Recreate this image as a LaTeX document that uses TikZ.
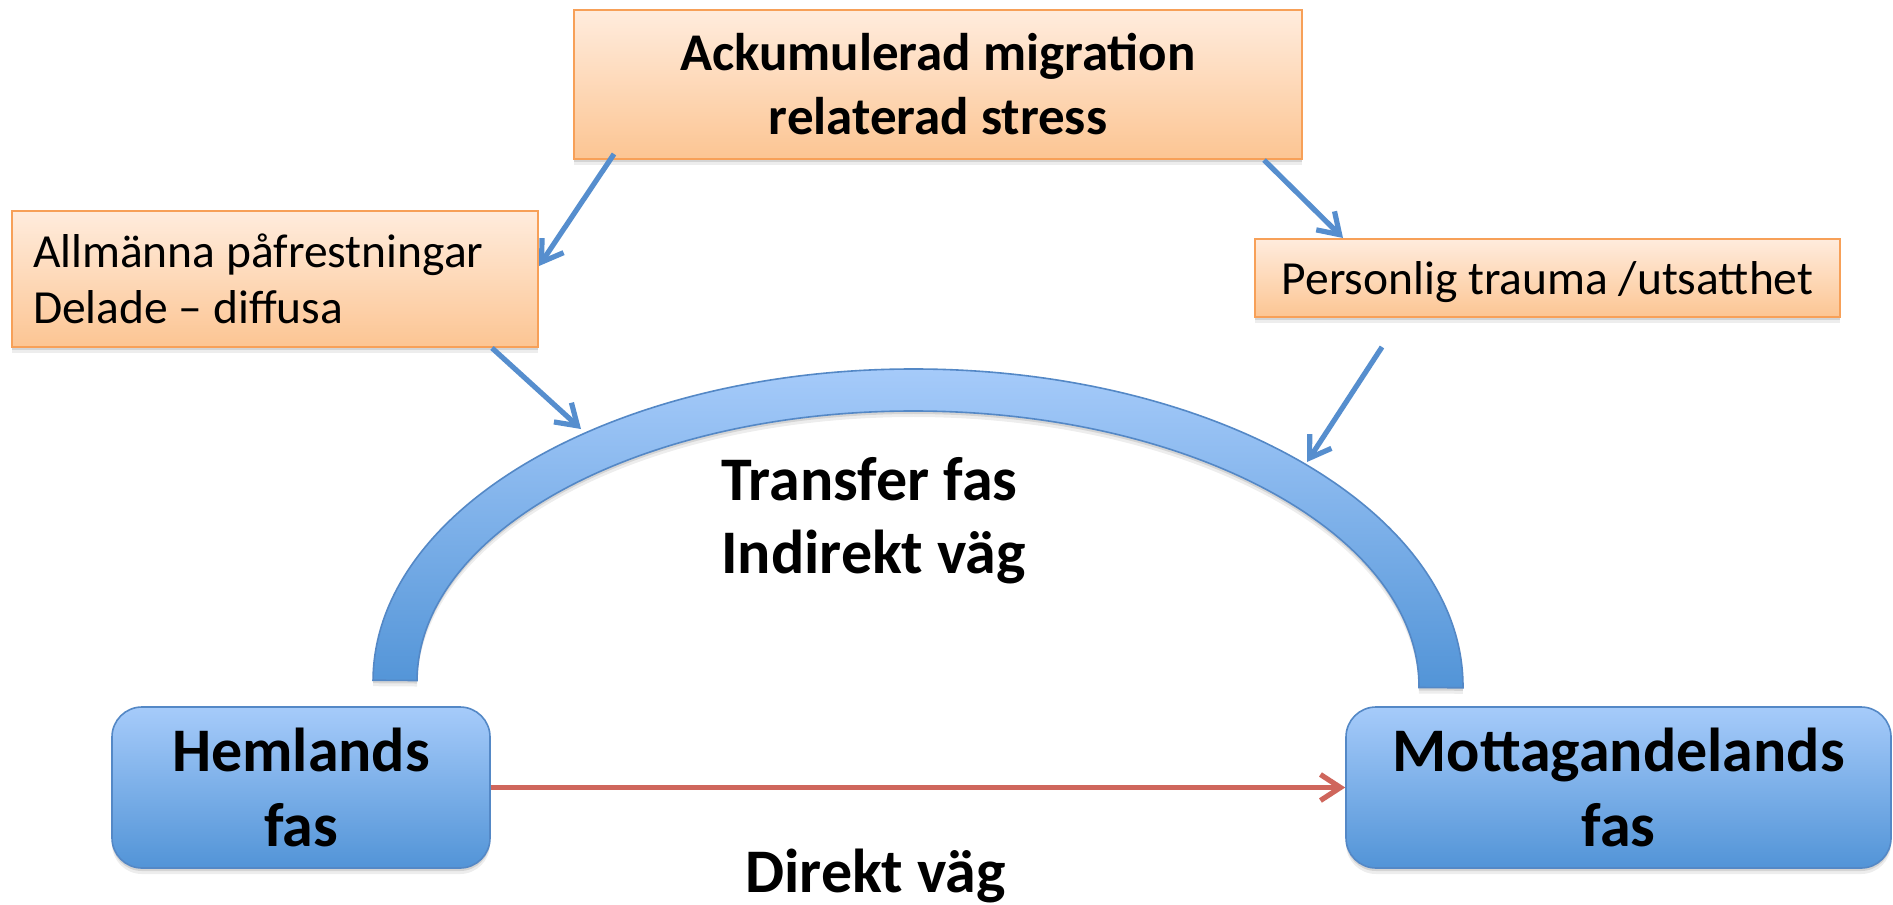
\documentclass[tikz,border=0pt]{standalone}
\usepackage{fontspec}
\setmainfont{Carlito}
\usetikzlibrary{arrows.meta,shadows}
\definecolor{orTop}{RGB}{255,236,221}
\definecolor{orBot}{RGB}{252,197,147}
\definecolor{orLine}{RGB}{247,160,88}
\definecolor{blTop}{RGB}{166,203,250}
\definecolor{blBot}{RGB}{82,148,215}
\definecolor{blLine}{RGB}{84,136,198}
\definecolor{arBlue}{RGB}{86,142,206}
\definecolor{arRed}{RGB}{207,102,92}
\begin{document}
\begin{tikzpicture}[x=0.5pt,y=-0.5pt,
  softshadow/.style={general shadow={fill=black,opacity=0.10,shadow yshift=-1.5pt},
                     general shadow={fill=black,opacity=0.07,shadow yshift=-3pt}},
  orbox/.style={rectangle, draw=orLine, line width=1pt, top color=orTop, bottom color=orBot, softshadow, inner sep=0pt},
  blbox/.style={rectangle, rounded corners=15pt, draw=blLine, line width=0.8pt, top color=blTop, bottom color=blBot, softshadow, inner sep=0pt, font=\fontsize{31}{37.5}\selectfont\bfseries, align=center},
  bluearr/.style={draw=arBlue, line width=2.6pt, -{Straight Barb[length=10pt,width=13pt]}},
  redarr/.style={draw=arRed, line width=2.6pt, -{Straight Barb[length=10pt,width=13pt]}},
]
\useasboundingbox[fill=white] (0,0) rectangle (1893,904);

% boxes
\node[orbox, minimum width=364pt, minimum height=74.5pt, font=\fontsize{26.5}{32}\selectfont\bfseries, align=center] (top) at (938,84.5) {Ackumulerad migration\\relaterad stress};
\node[orbox, minimum width=263pt, minimum height=68pt, text width=242pt, align=flush left, font=\fontsize{23.75}{28}\selectfont] (left) at (275,279) {Allmänna påfrestningar\\Delade – diffusa};
\node[orbox, minimum width=292.5pt, minimum height=39pt, text depth=0pt, font=\fontsize{23.75}{28}\selectfont] (right) at (1547.5,278) {Personlig trauma /utsatthet};

\node[blbox, minimum width=189pt, minimum height=80.5pt] (hem) at (301,787.5) {Hemlands\\fas};
\node[blbox, minimum width=272.5pt, minimum height=80.5pt] (mott) at (1618.5,787.5) {Mottagandelands\\fas};

% arc
\begin{scope}[rotate around={-0.4:(918,684)}]
\path[draw=blLine, line width=0.8pt, top color=blTop, bottom color=blBot, softshadow]
  (373,684) arc[start angle=180, end angle=0, x radius=272.5pt, y radius=157.5pt]
  -- (1419,684) arc[start angle=0, end angle=180, x radius=250.5pt, y radius=136.5pt] -- cycle;
\end{scope}

% texts
\node[anchor=base west, align=left, font=\fontsize{31}{36.5}\selectfont\bfseries, inner sep=0pt] (transfer) at (721,573) {Transfer fas\\Indirekt väg};
\node[anchor=base west, font=\fontsize{31}{37}\selectfont\bfseries, inner sep=0pt] (direkt) at (745,892) {Direkt väg};

% connectors
\coordinate (arcL) at (581,429);
\coordinate (arcR) at (1307,462);
\coordinate (s4) at (1382,347);
\draw[bluearr] ([xshift=20.5pt,yshift=3pt]top.south west) -- ([yshift=-28pt]left.north east);
\draw[bluearr] ([xshift=-19.5pt]top.south east) -- ([xshift=44.5pt]right.north west);
\draw[bluearr] ([xshift=-23.5pt]left.south east) -- (arcL);
\draw[bluearr] (s4) -- (arcR);
\draw[redarr] (hem.east) -- (mott.west);
\end{tikzpicture}
\end{document}
